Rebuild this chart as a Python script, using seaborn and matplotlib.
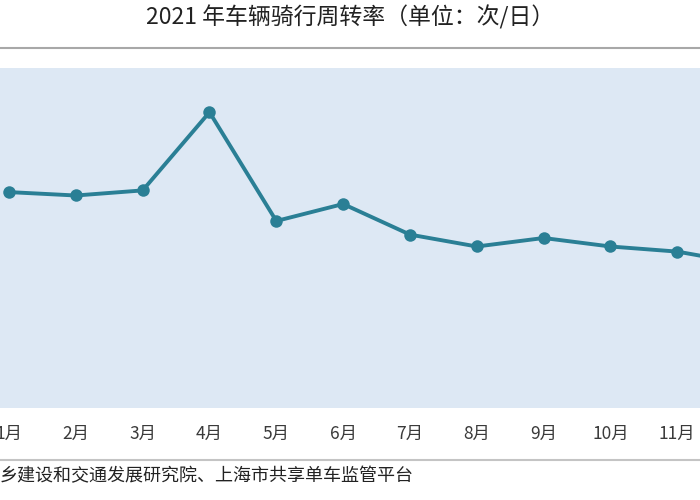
import seaborn as sns
import matplotlib.pyplot as plt
from matplotlib.lines import Line2D

# monthly turnover rate (times per day)
months = ['1月', '2月', '3月', '4月', '5月', '6月', '7月', '8月', '9月', '10月', '11月', '12月']
month_pos = list(range(12))
turnover = [1.27, 1.25, 1.28, 1.74, 1.10, 1.20, 1.02, 0.95, 1.00, 0.95, 0.92, 0.85]

title = '2021 年车辆骑行周转率（单位：次/日）'
source = '乡建设和交通发展研究院、上海市共享单车监管平台'

sns.set_theme(style='white')
plt.rcParams['font.family'] = ['Noto Sans CJK SC', 'DejaVu Sans']

fig = plt.figure(figsize=(7, 5), dpi=100)
ax = fig.add_axes([0, 0.184, 1, 0.68])
ax.set_facecolor('#dde8f4')

sns.lineplot(x=month_pos, y=turnover, ax=ax, color='#2a7f95', linewidth=2.8,
             marker='o', markersize=9, markeredgewidth=0)

ax.set_xticks(month_pos, months)
ax.set_yticks([])
# the chart is a crop: january sits at the left edge, december falls off the right
ax.set_xlim(-0.135, 10.34)
ax.set_ylim(0, 2.0)
ax.tick_params(axis='x', length=0, pad=12, labelsize=12.5, labelcolor='#3a3a3a')
for s in ax.spines.values():
    s.set_visible(False)
ax.set_xlabel('')
ax.set_ylabel('')

fig.text(0.5, 0.966, title, ha='center', va='center', fontsize=16.5, color='#222222')
fig.add_artist(Line2D([0, 1], [0.904, 0.904], color='#a8a8a8', linewidth=1.5))
fig.add_artist(Line2D([0, 1], [0.080, 0.080], color='#c4c4c4', linewidth=1.5))
fig.text(0.0, 0.048, source, ha='left', va='center', fontsize=13, color='#222222')

fig.savefig('out.png', dpi=100)
